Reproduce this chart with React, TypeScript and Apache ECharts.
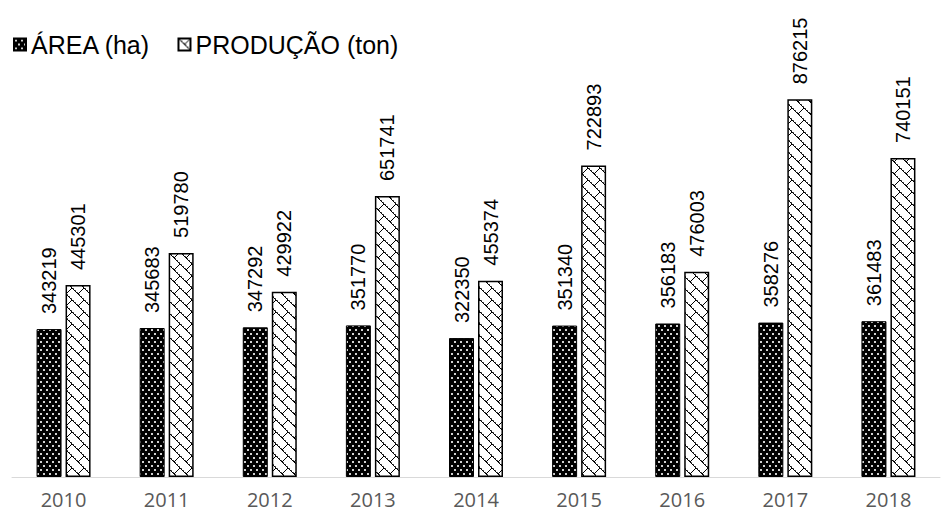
import React, { useEffect, useRef } from "react";
import * as echarts from "echarts";

const categories = ["2010", "2011", "2012", "2013", "2014", "2015", "2016", "2017", "2018"];
const areaValues = [343219, 345683, 347292, 351770, 322350, 351340, 356183, 358276, 361483];
const producaoValues = [445301, 519780, 429922, 651741, 455374, 722893, 476003, 876215, 740151];
const seriesNames = ["ÁREA (ha)", "PRODUÇÃO (ton)"];

function makeDots(): HTMLCanvasElement {
  const c = document.createElement("canvas");
  c.width = 6;
  c.height = 8;
  const ctx = c.getContext("2d")!;
  ctx.fillStyle = "#000";
  ctx.fillRect(0, 0, 6, 8);
  ctx.fillStyle = "#d0d0d0";
  ctx.fillRect(1, 1, 2, 2);
  ctx.fillRect(4, 5, 2, 2);
  return c;
}

function makeZigzag(): HTMLCanvasElement {
  const c = document.createElement("canvas");
  c.width = 12;
  c.height = 12;
  const ctx = c.getContext("2d")!;
  ctx.fillStyle = "#fff";
  ctx.fillRect(0, 0, 12, 12);
  ctx.fillStyle = "#000";
  for (let i = 0; i < 12; i++) {
    ctx.fillRect(i, i, 1, 1);
  }
  for (let i = 0; i < 6; i++) {
    ctx.fillRect(11 - i, i, 1, 1);
  }
  ctx.fillStyle = "#555";
  for (let i = 0; i < 11; i += 2) {
    ctx.fillRect(i + 1, i, 1, 1);
  }
  return c;
}

export default function App() {
  const ref = useRef<HTMLDivElement>(null);
  useEffect(() => {
    if (!ref.current) return;
    const chart = echarts.init(ref.current, null, { renderer: "svg" });
    const dots = makeDots();
    const zig = makeZigzag();
    const labelStyle = {
      show: true,
      position: "top" as const,
      rotate: 90,
      align: "left" as const,
      verticalAlign: "middle" as const,
      distance: 15,
      fontSize: 20,
      fontFamily: "Liberation Sans, Arial, sans-serif",
      color: "#000",
    };
    chart.setOption({
      animation: false,
      legend: {
        left: 8,
        top: 27,
        itemWidth: 12,
        itemHeight: 12,
        itemGap: 27,
        icon: "rect",
        textStyle: {
          fontSize: 25,
          fontFamily: "Liberation Sans, Arial, sans-serif",
          color: "#000",
          padding: [0, 0, 0, 0],
        },
        data: seriesNames,
      },
      grid: { left: 12, right: 4, top: 46, bottom: 38 },
      xAxis: {
        type: "category",
        data: categories,
        axisLine: { lineStyle: { color: "#d9d9d9", width: 1 } },
        axisTick: { show: false },
        axisLabel: {
          color: "#595959",
          fontSize: 20,
          fontFamily: "Open Sans, sans-serif",
          margin: 12,
        },
      },
      yAxis: {
        type: "value",
        min: 0,
        max: 1000000,
        show: false,
        splitLine: { show: false },
      },
      series: [
        {
          name: seriesNames[0],
          type: "bar",
          data: areaValues,
          barWidth: 25,
          barGap: "16%",
          itemStyle: {
            color: { image: dots, repeat: "repeat" },
            borderColor: "#000",
            borderWidth: 1,
          },
          label: labelStyle,
        },
        {
          name: seriesNames[1],
          type: "bar",
          data: producaoValues,
          barWidth: 25,
          itemStyle: {
            color: { image: zig, repeat: "repeat" },
            borderColor: "#000",
            borderWidth: 1.5,
          },
          label: labelStyle,
        },
      ],
    });
    return () => chart.dispose();
  }, []);
  return (
    <div
      ref={ref}
      style={{ position: "absolute", left: 0, top: 0, width: 944, height: 515 }}
    />
  );
}
